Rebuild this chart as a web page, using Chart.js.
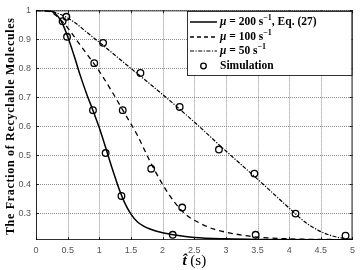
<!DOCTYPE html>
<html><head><meta charset="utf-8">
<script src="https://cdn.jsdelivr.net/npm/chart.js@4"></script>
<style>html,body{margin:0;padding:0;background:#fff}canvas{display:block}</style>
</head><body>
<canvas id="c" width="360" height="270"></canvas>
<script>
// ---- data ----
const curve200X = [0, 0.2, 0.3, 0.4, 0.5, 0.6, 0.7, 0.8, 0.9, 1.0, 1.1, 1.2, 1.3, 1.4, 1.5, 1.6, 1.7, 1.8, 2.0, 2.2, 2.5, 3.0, 3.5, 5.0];
const curve200Y = [1, 1, 0.99, 0.962, 0.91, 0.845, 0.775, 0.712, 0.655, 0.595, 0.527, 0.457, 0.392, 0.337, 0.297, 0.271, 0.256, 0.246, 0.233, 0.225, 0.217, 0.212, 0.21, 0.209];
const curve100X = [0, 0.2, 0.3, 0.4, 0.5, 0.7, 0.92, 1.0, 1.2, 1.4, 1.6, 1.8, 2.0, 2.2, 2.4, 2.6, 2.8, 3.0, 3.25, 3.5, 4.0, 5.0];
const curve100Y = [1, 0.997, 0.985, 0.965, 0.94, 0.88, 0.815, 0.79, 0.72, 0.645, 0.57, 0.48, 0.4, 0.335, 0.29, 0.265, 0.246, 0.235, 0.225, 0.218, 0.212, 0.209];
const curve50X = [0, 0.2, 0.4, 0.6, 0.8, 1.0, 1.5, 2.0, 2.5, 3.0, 3.5, 4.0, 4.25, 4.5, 4.75, 5.0];
const curve50Y = [1, 0.998, 0.985, 0.96, 0.925, 0.89, 0.8, 0.71, 0.615, 0.515, 0.418, 0.318, 0.27, 0.237, 0.218, 0.21];
const sim200X = [0.49, 0.90, 1.10, 1.35, 2.16];
const sim200Y = [0.909, 0.656, 0.508, 0.36, 0.226];
const sim100X = [0.42, 0.92, 1.37, 1.82, 2.31, 3.47];
const sim100Y = [0.963, 0.818, 0.656, 0.454, 0.32, 0.226];
const sim50X = [0.48, 1.06, 1.65, 2.27, 2.89, 3.45, 4.10, 4.89];
const sim50Y = [0.978, 0.888, 0.784, 0.667, 0.52, 0.437, 0.299, 0.223];
const xTicks = [0, 0.5, 1, 1.5, 2, 2.5, 3, 3.5, 4, 4.5, 5];
const yTicks = [0.3, 0.4, 0.5, 0.6, 0.7, 0.8, 0.9, 1];
const yTitle = 'The Fraction of Recyclable Molecules';
const legendLabels = ['200', '100', '50'];

const pts = (xs, ys) => xs.map((x, i) => ({x, y: ys[i]}));
const lineDS = (xs, ys, dash, w) => ({
  data: pts(xs, ys), showLine: true, borderColor: '#000', borderWidth: w,
  borderDash: dash, pointRadius: 0, cubicInterpolationMode: 'monotone', fill: false
});
const simDS = (xs, ys) => ({
  data: pts(xs, ys), showLine: false, pointRadius: 3.3, pointStyle: 'circle',
  pointBorderColor: '#000', pointBackgroundColor: 'rgba(0,0,0,0)', pointBorderWidth: 1.3
});

const serif = "'Liberation Serif', 'DejaVu Serif', serif";

function drawRich(ctx, x, y, segs) {
  ctx.textBaseline = 'middle';
  ctx.textAlign = 'left';
  for (const s of segs) {
    ctx.font = s.f;
    ctx.fillText(s.t, x, y + (s.dy || 0));
    x += ctx.measureText(s.t).width;
  }
}

const gridPlugin = {
  id: 'dotgrid',
  beforeDatasetsDraw(chart) {
    const ctx = chart.ctx, a = chart.chartArea;
    const xs = chart.scales.x, ys = chart.scales.y;
    ctx.save();
    ctx.strokeStyle = '#8c8c8c';
    ctx.lineWidth = 1;
    ctx.setLineDash([1, 1]);
    ctx.beginPath();
    for (const v of xTicks) {
      const px = Math.round(xs.getPixelForValue(v)) + 0.5;
      ctx.moveTo(px, a.top); ctx.lineTo(px, a.bottom);
    }
    for (const v of yTicks) {
      const py = Math.round(ys.getPixelForValue(v)) + 0.5;
      ctx.moveTo(a.left, py); ctx.lineTo(a.right, py);
    }
    ctx.stroke();
    ctx.restore();
  }
};

const decor = {
  id: 'decor',
  afterDraw(chart) {
    const ctx = chart.ctx;
    const a = chart.chartArea;
    const xs = chart.scales.x, ys = chart.scales.y;
    ctx.save();
    ctx.strokeStyle = '#000';
    ctx.lineWidth = 0.8;
    ctx.setLineDash([]);
    ctx.strokeRect(a.left + 0.5, a.top + 0.5, a.right - a.left - 1, a.bottom - a.top - 1);
    ctx.beginPath();
    for (const v of xTicks) {
      const px = Math.round(xs.getPixelForValue(v)) + 0.5;
      ctx.moveTo(px, a.bottom); ctx.lineTo(px, a.bottom - 3);
      ctx.moveTo(px, a.top); ctx.lineTo(px, a.top + 3);
    }
    for (const v of yTicks) {
      const py = Math.round(ys.getPixelForValue(v)) + 0.5;
      ctx.moveTo(a.left, py); ctx.lineTo(a.left + 3, py);
      ctx.moveTo(a.right, py); ctx.lineTo(a.right - 3, py);
    }
    ctx.stroke();

    // y title
    ctx.fillStyle = '#000';
    ctx.save();
    ctx.translate(11, (a.top + a.bottom) / 2 + 1);
    ctx.rotate(-Math.PI / 2);
    ctx.font = 'bold 12px ' + serif;
    try { ctx.letterSpacing = '0.7px'; } catch (e) {}
    ctx.textAlign = 'center';
    ctx.textBaseline = 'middle';
    ctx.fillText(yTitle, 0, 0);
    try { ctx.letterSpacing = '0px'; } catch (e) {}
    ctx.restore();

    // x title
    const cx = (a.left + a.right) / 2;
    ctx.font = 'italic bold 15px ' + serif;
    const w1 = ctx.measureText('t\u0302').width;
    ctx.font = '15px ' + serif;
    const w2 = ctx.measureText(' (s)').width;
    drawRich(ctx, cx - (w1 + w2) / 2, 261, [
      {t: 't\u0302', f: 'italic bold 15px ' + serif},
      {t: ' (s)', f: '15px ' + serif}
    ]);

    // legend box
    const lx = 187, ly = 11, lw = a.right - 1 - lx, lh = 64;
    ctx.fillStyle = '#fff';
    ctx.fillRect(lx, ly, lw, lh);
    ctx.strokeStyle = '#000';
    ctx.lineWidth = 0.8;
    ctx.strokeRect(lx + 0.5, ly + 0.5, lw, lh);
    const rows = [22, 37, 51, 66];
    const dashes = [[], [4, 3], [4, 1.5, 1.2, 1.5]];
    const widths = [1.5, 1.3, 1.2];
    ctx.strokeStyle = '#000';
    for (let i = 0; i < 3; i++) {
      ctx.beginPath();
      ctx.setLineDash(dashes[i]);
      ctx.lineWidth = widths[i];
      ctx.moveTo(190, rows[i]); ctx.lineTo(217, rows[i]);
      ctx.stroke();
    }
    ctx.setLineDash([]);
    ctx.lineWidth = 1.3;
    ctx.beginPath();
    ctx.arc(203.5, rows[3], 2.8, 0, Math.PI * 2);
    ctx.stroke();
    ctx.fillStyle = '#000';
    const bf = 'bold 11.5px ' + serif;
    const mf = 'italic bold 11.5px ' + serif;
    const sf = 'bold 8px ' + serif;
    for (let i = 0; i < 3; i++) {
      const segs = [
        {t: '\u03bc', f: mf},
        {t: ' = ' + legendLabels[i] + ' s', f: bf},
        {t: '\u22121', f: sf, dy: -4}
      ];
      if (i === 0) segs.push({t: ', Eq. (27)', f: bf});
      drawRich(ctx, 220, rows[i], segs);
    }
    drawRich(ctx, 220, rows[3], [{t: 'Simulation', f: bf}]);
    ctx.restore();
  }
};

new Chart(document.getElementById('c'), {
  type: 'scatter',
  data: {
    datasets: [
      lineDS(curve200X, curve200Y, [], 1.5),
      lineDS(curve100X, curve100Y, [5, 4], 1.3),
      lineDS(curve50X, curve50Y, [4, 1.5, 1.2, 1.5], 1.2),
      simDS(sim200X, sim200Y),
      simDS(sim100X, sim100Y),
      simDS(sim50X, sim50Y)
    ]
  },
  options: {
    responsive: false,
    animation: false,
    layout: {padding: {top: 8, right: 7, left: 0, bottom: 0}},
    plugins: {legend: {display: false}, tooltip: {enabled: false}},
    scales: {
      x: {
        type: 'linear', min: 0, max: 5,
        afterFit: s => { s.height = 30; },
        afterBuildTicks: s => { s.ticks = xTicks.map(v => ({value: v})); },
        grid: {display: false, drawTicks: false},
        border: {display: false},
        ticks: {padding: 5, color: '#555', font: {family: "'Liberation Sans', sans-serif", size: 9}, maxRotation: 0,
          callback: v => String(v)}
      },
      y: {
        type: 'linear', min: 0.208, max: 1,
        afterFit: s => { s.width = 36; },
        afterBuildTicks: s => { s.ticks = yTicks.map(v => ({value: v})); },
        grid: {display: false, drawTicks: false},
        border: {display: false},
        ticks: {padding: 5, color: '#555', font: {family: "'Liberation Sans', sans-serif", size: 9},
          callback: v => String(v)}
      }
    }
  },
  plugins: [gridPlugin, decor]
});
</script>
</body></html>
